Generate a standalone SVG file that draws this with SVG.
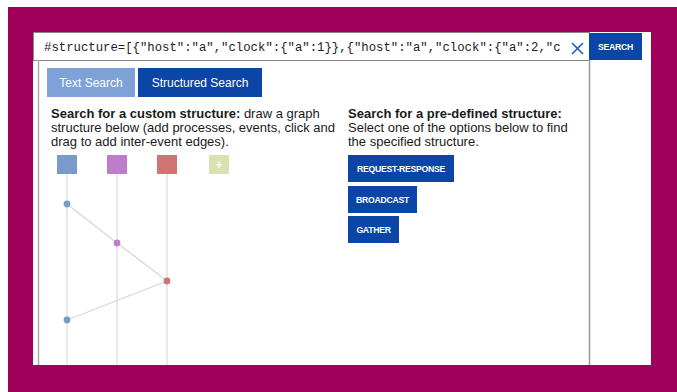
<svg xmlns="http://www.w3.org/2000/svg" width="677" height="392" viewBox="0 0 677 392">
<style>
.t{font-family:"Liberation Sans",Arial,sans-serif;font-size:13px;fill:#1a1a1a}
.b{font-weight:bold}
.btn{fill:#0B45A6}
.bl{font-family:"Liberation Sans",Arial,sans-serif;font-size:8.7px;font-weight:bold;fill:#fff;letter-spacing:-0.3px}
.tab{font-family:"Liberation Sans",Arial,sans-serif;font-size:12px;fill:#fff;text-anchor:middle}
.life{stroke:#e2e2e2;stroke-width:1.5}
.edge{stroke:#d6d6d6;stroke-width:1.2}
</style>
<rect x="0" y="0" width="677" height="392" fill="#fff"/>
<rect x="8" y="7" width="669" height="385" fill="#A0005A"/>
<rect x="33" y="32" width="618" height="333" fill="#fff"/>
<g id="searchbar">
<rect x="33.5" y="32.5" width="556" height="28" fill="#fff" stroke="#888" stroke-width="1"/>
<text x="44" y="51" font-family="'Liberation Mono','Courier New',monospace" font-size="12.3" fill="#222">#structure=[{"host":"a","clock":{"a":1}},{"host":"a","clock":{"a":2,"c</text>
<path d="M572 43 L583 54 M583 43 L572 54" stroke="#1c56b8" stroke-width="1.5" fill="none"/>
</g>
<g id="search-button">
<rect x="589" y="33" width="53" height="27" class="btn"/>
<text x="615.5" y="50" class="bl" text-anchor="middle">SEARCH</text>
</g>
<line x1="589.5" y1="60" x2="589.5" y2="365" stroke="#999" stroke-width="1.5"/>
<line x1="38.5" y1="60" x2="38.5" y2="365" stroke="#aaa" stroke-width="1.5"/>
<g id="tab-text">
<rect x="47" y="68" width="88" height="29" fill="#7EA1D8"/>
<text x="91" y="87" class="tab">Text Search</text>
</g>
<g id="tab-structured">
<rect x="138" y="68" width="124" height="29" fill="#0B45A6"/>
<text x="200" y="87" class="tab">Structured Search</text>
</g>
<g id="custom-text">
<text x="51" y="118" class="t"><tspan class="b">Search for a custom structure:</tspan> draw a graph</text>
<text x="51" y="132" class="t">structure below (add processes, events, click and</text>
<text x="51" y="146" class="t">drag to add inter-event edges).</text>
</g>
<g id="predef-text">
<text x="348" y="118" class="t b">Search for a pre-defined structure:</text>
<text x="348" y="132" class="t">Select one of the options below to find</text>
<text x="348" y="146" class="t">the specified structure.</text>
</g>
<g id="btn-request-response">
<rect x="348" y="155" width="106" height="27" class="btn"/>
<text x="401" y="172" class="bl" text-anchor="middle">REQUEST-RESPONSE</text>
</g>
<g id="btn-broadcast">
<rect x="348" y="186" width="69" height="27" class="btn"/>
<text x="382.5" y="203" class="bl" text-anchor="middle">BROADCAST</text>
</g>
<g id="btn-gather">
<rect x="348" y="216" width="51" height="27" class="btn"/>
<text x="373.5" y="233" class="bl" text-anchor="middle">GATHER</text>
</g>
<g id="lifelines">
<line x1="67" y1="174" x2="67" y2="365" class="life"/>
<line x1="117" y1="174" x2="117" y2="365" class="life"/>
<line x1="167" y1="174" x2="167" y2="365" class="life"/>
</g>
<g id="process-a"><rect x="57" y="155" width="20" height="19" fill="#7B9ACC"/></g>
<g id="process-b"><rect x="107" y="155" width="20" height="19" fill="#BD7DCC"/></g>
<g id="process-c"><rect x="157" y="155" width="20" height="19" fill="#CE7472"/></g>
<g id="process-add"><rect x="209" y="155" width="20" height="19" fill="#D9E1B3"/>
<text x="219" y="169" font-family="'Liberation Sans',Arial,sans-serif" font-size="12" font-weight="bold" fill="#fff" text-anchor="middle">+</text></g>
<g id="edges">
<line x1="67" y1="204" x2="117" y2="243" class="edge"/>
<line x1="117" y1="243" x2="167" y2="281" class="edge"/>
<line x1="167" y1="281" x2="67" y2="320" class="edge"/>
</g>
<g id="event-a1"><circle cx="67" cy="204" r="3.4" fill="#7B9ACC"/></g>
<g id="event-b1"><circle cx="117" cy="243" r="3.4" fill="#BD7DCC"/></g>
<g id="event-c1"><circle cx="167" cy="281" r="3.4" fill="#CE7472"/></g>
<g id="event-a2"><circle cx="67" cy="320" r="3.4" fill="#7B9ACC"/></g>
</svg>
